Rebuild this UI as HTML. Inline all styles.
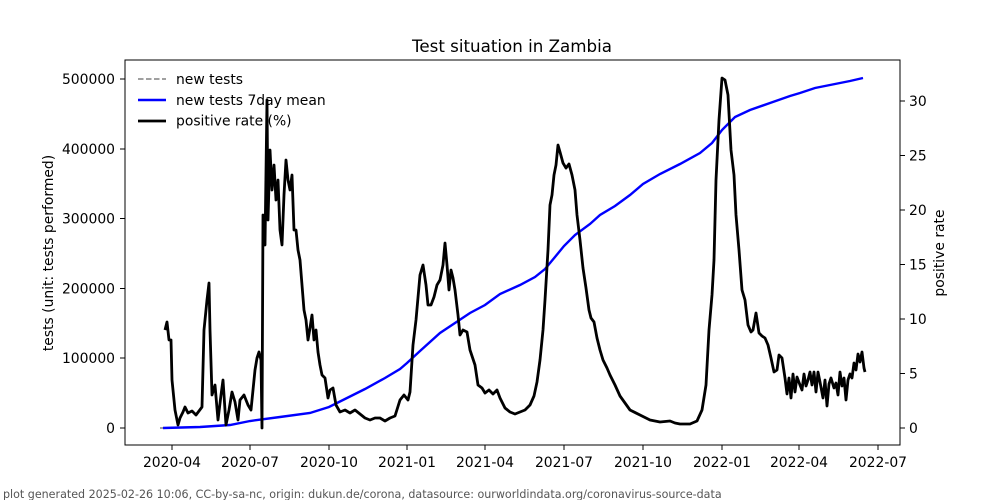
<!DOCTYPE html>
<html><head><meta charset="utf-8"><style>
html,body{margin:0;padding:0;background:#fff;}
svg{display:block;font-family:"DejaVu Sans","Liberation Sans",sans-serif;}
</style></head><body>
<svg width="1000" height="500" viewBox="0 0 1000 500" xmlns="http://www.w3.org/2000/svg">
<rect width="1000" height="500" fill="#fff"/>
<text x="512" y="52" font-size="16.7" text-anchor="middle">Test situation in Zambia</text>
<polyline fill="none" stroke="#0000ff" stroke-width="2.4" points="163,428 200,427 230,425 250,421 280,417 310,413 329,407 345,399 365,389 385,378 400,369 407,363 420,351 440,333 455,323 470,313 485,305 500,294 520,285 535,277 545,269 555,257 564,246 575,235 590,224 600,215 615,206 630,195 643,184 660,174 680,164 700,153 712,143 722,130 735,117 750,110 770,103 790,96 800,93 815,88 835,84 850,81 863,78"/>
<line x1="160" y1="428" x2="163" y2="428" stroke="#808080" stroke-width="1.5"/>
<polyline fill="none" stroke="#000" stroke-width="2.8" stroke-linejoin="round" points="165,330 167,322 169,340 171,340 172,380 175,410 178,425 180,418 183,412 185,407 188,413 192,411 196,415 199,411 202,407 204,330 207,300 209,283 210,330 212,395 215,385 218,420 221,395 223,380 226,425 229,410 232,392 235,402 238,420 240,400 244,395 248,405 251,410 255,370 257,358 259,352 261,360 262,428 263,215 265,245 267,100 268,220 270,150 272,190 274,165 276,200 278,180 280,230 282,245 284,195 286,160 288,180 290,190 292,175 294,230 296,230 298,250 300,260 302,285 304,310 306,320 308,340 310,328 312,315 314,340 316,330 318,352 320,365 322,375 325,378 328,398 330,390 333,388 336,405 340,412 345,410 350,413 355,410 360,414 365,418 370,420 375,418 380,418 385,421 390,418 395,416 400,400 404,395 408,400 410,392 413,345 416,320 420,275 423,265 426,285 428,305 431,305 434,297 437,285 440,280 443,265 445,243 447,265 449,290 451,270 453,278 455,290 458,315 460,335 463,330 467,332 470,350 475,365 478,385 482,388 485,393 489,390 493,394 497,390 500,398 505,408 510,412 515,414 520,412 525,410 530,405 534,396 537,382 540,360 543,330 545,300 548,250 550,205 552,195 554,175 556,165 558,145 560,152 563,163 566,168 569,164 572,175 575,190 577,215 580,240 583,268 586,288 589,310 591,318 594,322 597,338 600,350 603,360 607,368 610,375 615,385 620,396 625,403 630,410 640,415 650,420 660,422 670,421 675,423 680,424 690,424 697,421 702,410 706,385 709,330 712,295 714,260 716,180 719,120 722,78 725,80 728,95 731,150 734,175 736,215 739,250 742,290 745,300 748,325 751,332 753,330 756,313 759,333 762,336 765,338 768,345 771,358 774,372 777,370 779,355 782,358 785,378 787,394 789,378 791,398 793,374 795,392 797,377 800,385 802,390 804,374 806,386 808,380 810,372 812,385 814,372 816,392 818,372 820,382 823,398 825,380 827,406 829,384 831,378 834,388 836,383 838,395 840,372 842,386 844,378 846,400 848,380 850,374 852,378 854,363 856,370 858,354 860,362 862,352 864,368 865,372"/>
<rect x="125" y="60" width="775" height="385" fill="none" stroke="#000" stroke-width="1"/>
<g font-size="13.9" text-anchor="end">
<line x1="120" y1="428" x2="125" y2="428" stroke="#000"/><text x="115" y="433">0</text>
<line x1="120" y1="358" x2="125" y2="358" stroke="#000"/><text x="115" y="363">100000</text>
<line x1="120" y1="288.5" x2="125" y2="288.5" stroke="#000"/><text x="115" y="293.5">200000</text>
<line x1="120" y1="218.5" x2="125" y2="218.5" stroke="#000"/><text x="115" y="223.5">300000</text>
<line x1="120" y1="149" x2="125" y2="149" stroke="#000"/><text x="115" y="154">400000</text>
<line x1="120" y1="79" x2="125" y2="79" stroke="#000"/><text x="115" y="84">500000</text>
</g>
<g font-size="13.9">
<line x1="900" y1="428" x2="905" y2="428" stroke="#000"/><text x="909" y="433">0</text>
<line x1="900" y1="373.5" x2="905" y2="373.5" stroke="#000"/><text x="909" y="378.5">5</text>
<line x1="900" y1="319" x2="905" y2="319" stroke="#000"/><text x="909" y="324">10</text>
<line x1="900" y1="264.5" x2="905" y2="264.5" stroke="#000"/><text x="909" y="269.5">15</text>
<line x1="900" y1="210" x2="905" y2="210" stroke="#000"/><text x="909" y="215">20</text>
<line x1="900" y1="155.5" x2="905" y2="155.5" stroke="#000"/><text x="909" y="160.5">25</text>
<line x1="900" y1="101" x2="905" y2="101" stroke="#000"/><text x="909" y="106">30</text>
</g>
<g font-size="13.9" text-anchor="middle">
<line x1="172" y1="445" x2="172" y2="450" stroke="#000"/><text x="172" y="467">2020-04</text>
<line x1="250" y1="445" x2="250" y2="450" stroke="#000"/><text x="250" y="467">2020-07</text>
<line x1="329" y1="445" x2="329" y2="450" stroke="#000"/><text x="329" y="467">2020-10</text>
<line x1="407" y1="445" x2="407" y2="450" stroke="#000"/><text x="407" y="467">2021-01</text>
<line x1="485" y1="445" x2="485" y2="450" stroke="#000"/><text x="485" y="467">2021-04</text>
<line x1="564" y1="445" x2="564" y2="450" stroke="#000"/><text x="564" y="467">2021-07</text>
<line x1="643" y1="445" x2="643" y2="450" stroke="#000"/><text x="643" y="467">2021-10</text>
<line x1="722" y1="445" x2="722" y2="450" stroke="#000"/><text x="722" y="467">2022-01</text>
<line x1="799" y1="445" x2="799" y2="450" stroke="#000"/><text x="799" y="467">2022-04</text>
<line x1="878" y1="445" x2="878" y2="450" stroke="#000"/><text x="878" y="467">2022-07</text>
</g>
<text transform="translate(53,253) rotate(-90)" font-size="13.9" text-anchor="middle">tests (unit: tests performed)</text>
<text transform="translate(944,253) rotate(-90)" font-size="13.9" text-anchor="middle">positive rate</text>
<line x1="138" y1="79" x2="166" y2="79" stroke="#808080" stroke-width="1.5" stroke-dasharray="5.5,2.5"/>
<text x="176" y="84" font-size="13.9">new tests</text>
<line x1="138" y1="100" x2="166" y2="100" stroke="#0000ff" stroke-width="2.4"/>
<text x="176" y="105" font-size="13.9">new tests 7day mean</text>
<line x1="138" y1="121" x2="166" y2="121" stroke="#000" stroke-width="2.8"/>
<text x="176" y="125.5" font-size="13.9">positive rate (%)</text>
<text x="3" y="498" font-size="11.1" fill="#555">plot generated 2025-02-26 10:06, CC-by-sa-nc, origin: dukun.de/corona, datasource: ourworldindata.org/coronavirus-source-data</text>
</svg>
</body></html>
